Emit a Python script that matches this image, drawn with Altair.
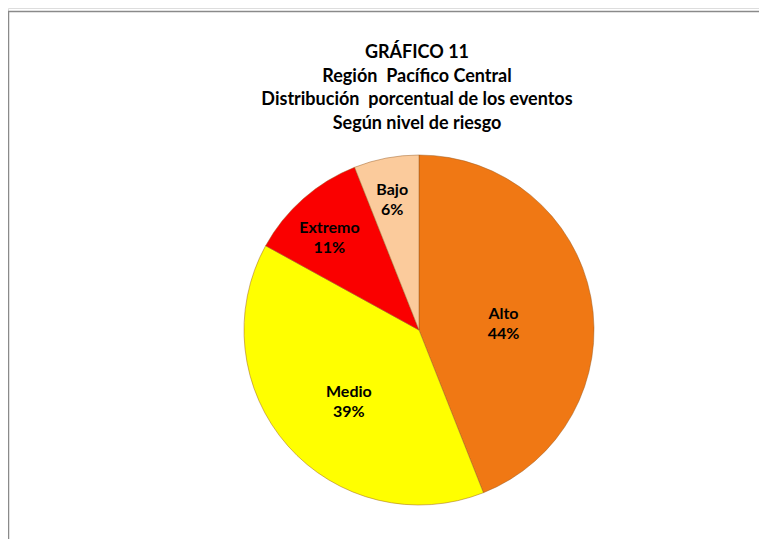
import altair as alt
import pandas as pd

categories = ["Alto", "Medio", "Extremo", "Bajo"]
values = [44, 39, 11, 6]
colors = ["#F07814", "#FFFF00", "#FA0000", "#FBCB9C"]
title_lines = [
    "GRÁFICO 11",
    "Región  Pacífico Central",
    "Distribución  porcentual de los eventos",
    "Según nivel de riesgo",
]

df = pd.DataFrame({"cat": categories, "val": values, "ord": list(range(len(categories)))})

W, H = 751, 531
CX, CY, R = 411, 322, 175
FONT = "Lato"
theta_scale = alt.Scale(domain=[0, 100])

pie = alt.Chart(df).mark_arc(stroke="#9A5A20", strokeWidth=0.8, strokeOpacity=0.6).encode(
    theta=alt.Theta("val:Q", stack=True, scale=theta_scale),
    order=alt.Order("ord:Q"),
    x=alt.value(CX),
    y=alt.value(CY),
    radius=alt.value(R),
    color=alt.Color("cat:N", scale=alt.Scale(domain=categories, range=colors), legend=None),
)

labels = alt.Chart(df).transform_window(
    cum="sum(val)", sort=[alt.SortField("ord")], frame=[None, 0]
).transform_calculate(
    mid="datum.cum - datum.val / 2",
    label="datum.cat + '\\n' + datum.val + '%'",
    r="152 - 1.5 * datum.val",
).mark_text(
    font=FONT, fontSize=16, fontWeight="bold", color="black",
    lineBreak="\n", lineHeight=20, align="center", baseline="middle",
).encode(
    theta=alt.Theta("mid:Q", stack=None, scale=theta_scale),
    x=alt.value(CX),
    y=alt.value(CY),
    radius=alt.Radius("r:Q", scale=None),
    text="label:N",
)

title = alt.Chart(pd.DataFrame({"a": [0]})).mark_text(
    font=FONT, fontSize=18, fontWeight="bold", color="black",
    align="center", baseline="alphabetic", lineHeight=23.7,
).encode(
    x=alt.value(409),
    y=alt.value(50),
    text=alt.value([t.replace("  ", " \u00a0") for t in title_lines]),
)

frame_top = alt.Chart(pd.DataFrame({"a": [0]})).mark_rule(color="#8A8A8A", strokeWidth=1.5).encode(
    x=alt.value(0), x2=alt.value(W), y=alt.value(3.5)
)
frame_left = alt.Chart(pd.DataFrame({"a": [0]})).mark_rule(color="#8A8A8A", strokeWidth=1.5).encode(
    x=alt.value(0.5), y=alt.value(3), y2=alt.value(H)
)

chart = alt.layer(pie, labels, title, frame_top, frame_left).properties(
    width=W, height=H, padding=0,
    autosize=alt.AutoSizeParams(type="none"),
).configure_view(stroke=None).configure(background="white")

chart.save("out.html", embed_options={"renderer": "svg", "actions": False})
